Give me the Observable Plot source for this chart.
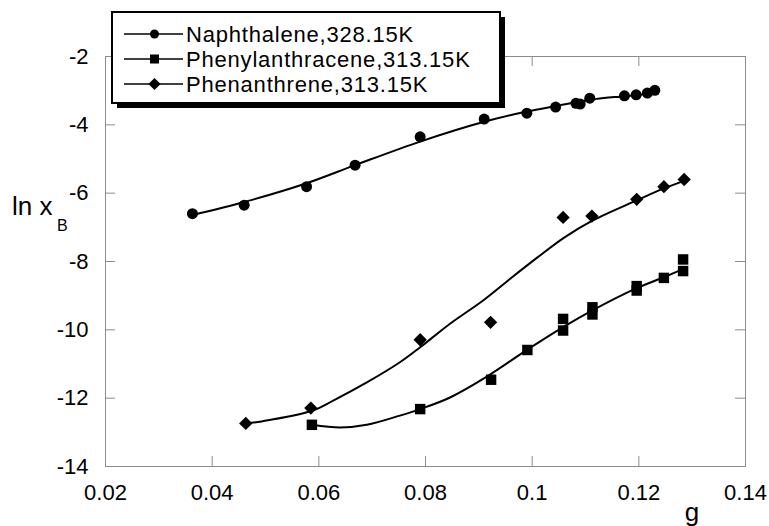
<!DOCTYPE html>
<html><head><meta charset="utf-8">
<script src="https://cdn.jsdelivr.net/npm/d3@7"></script>
<script src="https://cdn.jsdelivr.net/npm/@observablehq/plot@0.6"></script>
<style>body{margin:0;background:#fff}</style>
</head><body><div id="chart"></div>
<script>
const xTicks = [0.02, 0.04, 0.06, 0.08, 0.1, 0.12, 0.14];
const yTicks = [-14, -12, -10, -8, -6, -4, -2];
const seriesNames = ["Naphthalene,328.15K", "Phenylanthracene,313.15K", "Phenanthrene,313.15K"];
const seriesSymbols = ["circle", "square", "diamond2"];

// measured points
const naphX = [0.0363, 0.0460, 0.0577, 0.0668, 0.0790, 0.0910, 0.0990, 0.1044, 0.1082, 0.1090, 0.1108, 0.1173, 0.1195, 0.1216, 0.1230];
const naphY = [-6.60, -6.35, -5.81, -5.18, -4.35, -3.83, -3.66, -3.48, -3.37, -3.39, -3.22, -3.15, -3.12, -3.07, -2.99];
const phenylX = [0.0587, 0.0790, 0.0923, 0.0991, 0.1058, 0.1058, 0.1113, 0.1113, 0.1196, 0.1196, 0.1247, 0.1283, 0.1283];
const phenylY = [-12.78, -12.32, -11.46, -10.59, -10.02, -9.68, -9.55, -9.34, -8.85, -8.72, -8.48, -8.28, -7.94];
const phenanX = [0.0463, 0.0585, 0.0790, 0.0922, 0.1058, 0.1112, 0.1196, 0.1247, 0.1285];
const phenanY = [-12.74, -12.29, -10.29, -9.78, -6.71, -6.67, -6.18, -5.81, -5.60];

// fitted curves
const naphFitX = [0.0363, 0.0460, 0.0577, 0.0668, 0.0790, 0.0910, 0.0990, 0.1044, 0.1090, 0.1121, 0.1173, 0.1216, 0.1230];
const naphFitY = [-6.64, -6.26, -5.71, -5.18, -4.49, -3.91, -3.61, -3.45, -3.32, -3.24, -3.16, -3.09, -3.04];
const phenylFitX = [0.0587, 0.0640, 0.0690, 0.0752, 0.0790, 0.0846, 0.0915, 0.0991, 0.1058, 0.1113, 0.1196, 0.1247, 0.1285];
const phenylFitY = [-12.78, -12.86, -12.78, -12.51, -12.32, -11.98, -11.37, -10.58, -9.92, -9.43, -8.78, -8.46, -8.21];
const phenanFitX = [0.0463, 0.0493, 0.0587, 0.0627, 0.0690, 0.0752, 0.0790, 0.0846, 0.0908, 0.0960, 0.1010, 0.1060, 0.1112, 0.1196, 0.1247, 0.1285];
const phenanFitY = [-12.74, -12.68, -12.37, -12.07, -11.54, -10.95, -10.51, -9.82, -9.14, -8.49, -7.88, -7.30, -6.81, -6.21, -5.86, -5.64];

const rows = (xs, ys) => xs.map((x, i) => ({x, y: ys[i]}));
const pointSets = [rows(naphX, naphY), rows(phenylX, phenylY), rows(phenanX, phenanY)];
const fitSets = [rows(naphFitX, naphFitY), rows(phenylFitX, phenylFitY), rows(phenanFitX, phenanFitY)];

const W = 769, H = 526, mL = 105, mR = 24, mT = 56, mB = 60;
const plotW = W - mL - mR, plotH = H - mT - mB;
const FONT = "Arial, 'Liberation Sans', sans-serif";
const gray = "#8c8c8c";
const radii = [5.5, 5.9, 6];

const svg = Plot.plot({
  width: W, height: H,
  marginLeft: mL, marginRight: mR, marginTop: mT, marginBottom: mB,
  style: {background: "#fff", fontFamily: FONT, fontSize: "22px", color: "#000", overflow: "visible"},
  x: {domain: [0.02, 0.14]},
  y: {domain: [-14, -2]},
  marks: [
    Plot.frame({stroke: gray}),
    Plot.tickX(xTicks, {x: d => d, stroke: gray, insetTop: plotH - 10}),
    Plot.tickX(xTicks, {x: d => d, stroke: gray, insetBottom: plotH - 10}),
    Plot.tickY(yTicks, {y: d => d, stroke: gray, insetRight: plotW - 10}),
    Plot.tickY(yTicks, {y: d => d, stroke: gray, insetLeft: plotW - 10}),
    Plot.axisX({ticks: xTicks, tickFormat: d => String(d), tickSize: 0, tickPadding: 18, label: null, fontSize: 22}),
    Plot.axisY({ticks: yTicks, tickFormat: d => String(d), tickSize: 0, tickPadding: 17, label: null, fontSize: 22}),
    ...fitSets.map(f => Plot.line(f, {x: "x", y: "y", stroke: "#000", strokeWidth: 2, curve: "catmull-rom"})),
    ...pointSets.map((p, i) => Plot.dot(p, {x: "x", y: "y", symbol: seriesSymbols[i], r: radii[i], fill: "#000", stroke: "none"}))
  ]
});
document.getElementById("chart").appendChild(svg);

const s = d3.select(svg);
const txt = (x, y, size, str, anchor = "start") =>
  s.append("text").attr("x", x).attr("y", y).attr("text-anchor", anchor)
    .attr("font-family", FONT).attr("font-size", size).attr("fill", "#000").text(str);
// axis titles
txt(12, 215, 26, "ln x");
txt(57, 231, 16, "B");
txt(692, 521, 26, "g", "middle");

// legend
const lg = s.append("g");
lg.append("rect").attr("x", 117).attr("y", 17).attr("width", 388).attr("height", 91).attr("fill", "#000");
lg.append("rect").attr("x", 112).attr("y", 12).attr("width", 388).attr("height", 91).attr("fill", "#fff").attr("stroke", "#000").attr("stroke-width", 2);
const legendSyms = [d3.symbolCircle, d3.symbolSquare, d3.symbolDiamond2];
const legendSizes = [Math.PI * 4.5 * 4.5, 81, Math.PI * 5.5 * 5.5];
seriesNames.forEach((name, i) => {
  const yy = 34 + i * 25;
  lg.append("line").attr("x1", 124).attr("x2", 183).attr("y1", yy).attr("y2", yy).attr("stroke", "#000").attr("stroke-width", 1.6);
  lg.append("path").attr("transform", `translate(154.5,${yy})`).attr("d", d3.symbol(legendSyms[i], legendSizes[i])()).attr("fill", "#000");
  lg.append("text").attr("x", 186).attr("y", yy + 8).attr("text-anchor", "start").attr("font-family", FONT).attr("font-size", 22)
    .attr("letter-spacing", "0.8px").attr("fill", "#000").text(name);
});
</script>
</body></html>
